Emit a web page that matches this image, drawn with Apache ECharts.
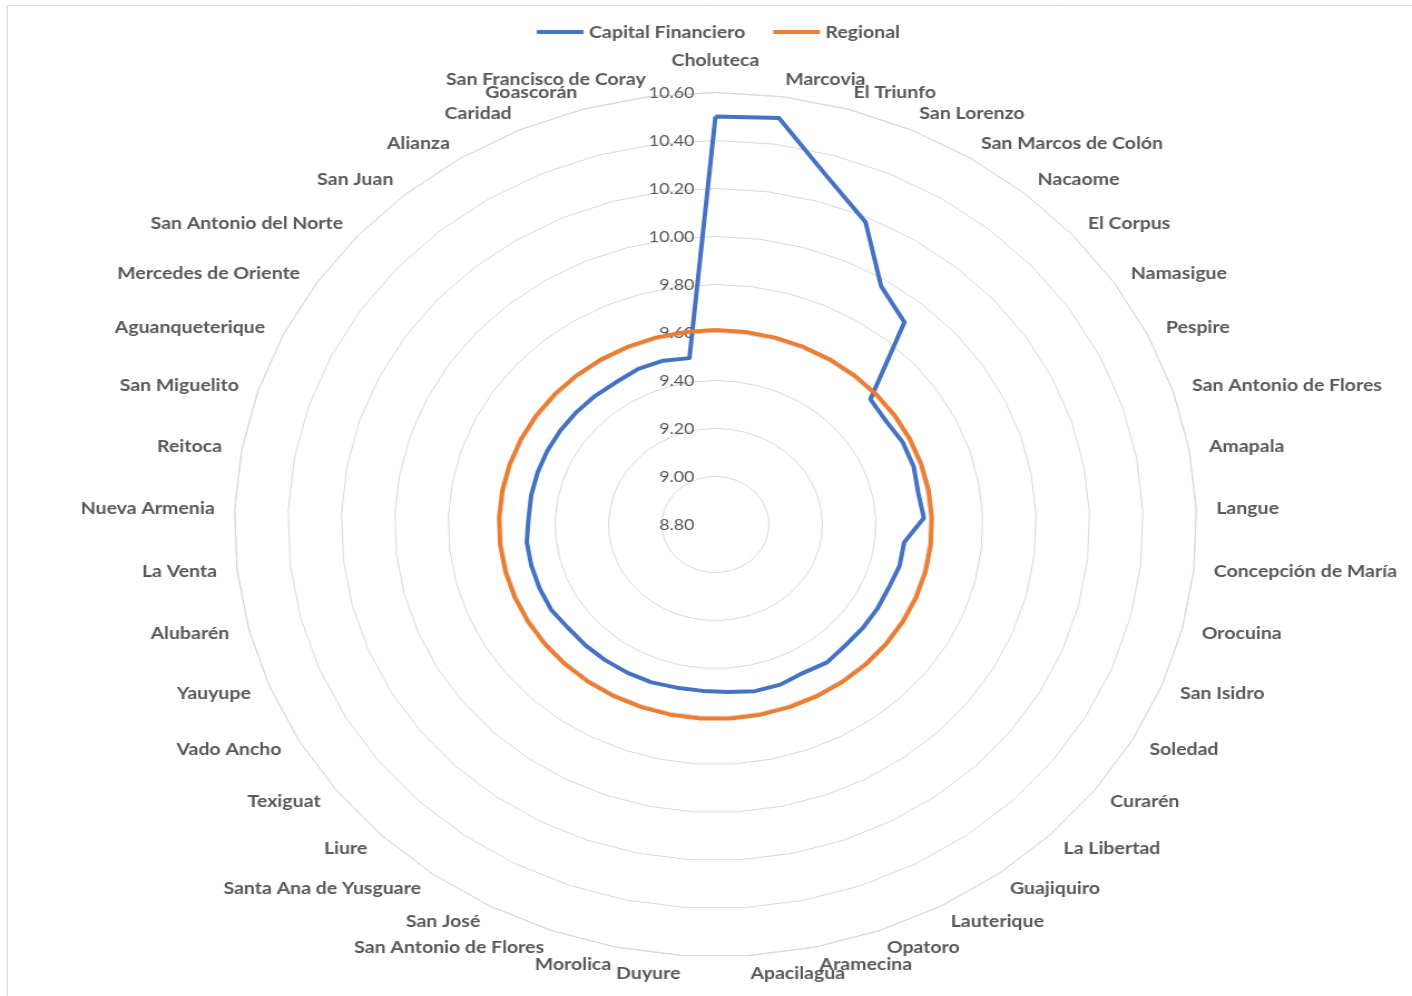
<!DOCTYPE html>
<html>
<head>
<meta charset="utf-8">
<script src="https://cdn.jsdelivr.net/npm/echarts@6/dist/echarts.min.js"></script>
<style>
  html, body { margin: 0; padding: 0; background: #ffffff; }
  #wrap { position: absolute; left: 0; top: 0; width: 1412px; height: 996px; overflow: hidden; background: #ffffff; }
  #chart { position: absolute; left: 0; top: 0; width: 1268px; height: 996px; transform: scaleX(1.11356); transform-origin: 0 0; }
</style>
</head>
<body>
<div id="wrap"><div id="chart"></div></div>
<script>
// ---- data (clockwise from top) ----
const categories = [
  'Choluteca', 'Marcovia', 'El Triunfo', 'San Lorenzo', 'San Marcos de Colón', 'Nacaome',
  'El Corpus', 'Namasigue', 'Pespire', 'San Antonio de Flores', 'Amapala', 'Langue',
  'Concepción de María', 'Orocuina', 'San Isidro', 'Soledad', 'Curarén', 'La Libertad',
  'Guajiquiro', 'Lauterique', 'Opatoro', 'Aramecina', 'Apacilagua', 'Duyure', 'Morolica',
  'San Antonio de Flores', 'San José', 'Santa Ana de Yusguare', 'Liure', 'Texiguat',
  'Vado Ancho', 'Yauyupe', 'Alubarén', 'La Venta', 'Nueva Armenia', 'Reitoca',
  'San Miguelito', 'Aguanqueterique', 'Mercedes de Oriente', 'San Antonio del Norte',
  'San Juan', 'Alianza', 'Caridad', 'Goascorán', 'San Francisco de Coray'
];
const capitalFinanciero = [
  10.50, 10.51, 10.31, 10.18, 9.97, 9.90, 9.58, 9.57, 9.58, 9.58, 9.57, 9.58,
  9.51, 9.51, 9.50, 9.50, 9.50, 9.50, 9.51, 9.50, 9.51, 9.51, 9.50, 9.495, 9.495,
  9.50, 9.50, 9.50, 9.50, 9.50, 9.51, 9.51, 9.51, 9.51, 9.50, 9.50, 9.50, 9.50,
  9.50, 9.50, 9.50, 9.50, 9.51, 9.51, 9.50
];
const regional = [
  9.61, 9.61, 9.61, 9.61, 9.61, 9.61, 9.61, 9.61, 9.61, 9.61, 9.61, 9.61,
  9.61, 9.61, 9.61, 9.61, 9.61, 9.61, 9.61, 9.61, 9.61, 9.61, 9.61, 9.61, 9.61,
  9.61, 9.61, 9.61, 9.61, 9.61, 9.61, 9.61, 9.61, 9.61, 9.61, 9.61, 9.61, 9.61,
  9.61, 9.61, 9.61, 9.61, 9.61, 9.61, 9.61
];
const seriesNames = ['Capital Financiero', 'Regional'];
const axisMin = 8.8;
const axisMax = 10.6;
const axisStep = 0.2;

// ---- layout / style ----
const CX = 642.5, CY = 524.5, R = 432;
const gray = '#595959';
const font = 'Lato';
const labelSize = 17.5;

// ECharts radar runs counter-clockwise; reorder so categories read clockwise
const order = [0];
for (let i = categories.length - 1; i >= 1; i--) order.push(i);
const pick = arr => order.map(i => arr[i]);

const chart = echarts.init(document.getElementById('chart'), null, { renderer: 'canvas' });
chart.setOption({
  backgroundColor: '#ffffff',
  animation: false,
  textStyle: { fontFamily: font },
  graphic: [{
    type: 'rect', silent: true, z: -10,
    shape: { x: 6.5, y: 5.5, width: 1400, height: 1100 },
    style: { fill: 'none', stroke: '#d9d9d9', lineWidth: 1 }
  }],
  legend: {
    top: 23, left: 482, padding: 0,
    itemWidth: 42, itemHeight: 4, itemGap: 25,
    icon: 'roundRect',
    data: seriesNames,
    textStyle: { color: gray, fontSize: labelSize, fontWeight: 'bold', fontFamily: font }
  },
  radar: {
    center: [CX, CY],
    radius: R,
    startAngle: 90,
    splitNumber: Math.round((axisMax - axisMin) / axisStep),
    shape: 'polygon',
    nameGap: 18,
    indicator: pick(categories).map((n, i) => i === 0
      ? { name: n, min: axisMin, max: axisMax, nameGap: 23 }
      : { name: n, min: axisMin, max: axisMax }),
    axisName: { color: gray, fontSize: labelSize, fontWeight: 'bold', fontFamily: font },
    splitLine: { lineStyle: { color: '#d9d9d9', width: 1 } },
    splitArea: { show: false },
    axisLine: { show: false },
    axisTick: { show: false },
    axisLabel: { show: false }
  },
  grid: { left: CX, top: CY - R, width: 1, height: R, containLabel: false },
  xAxis: { type: 'value', show: false, min: 0, max: 1 },
  yAxis: {
    type: 'value', min: axisMin, max: axisMax, interval: axisStep,
    axisLine: { show: false }, axisTick: { show: false }, splitLine: { show: false },
    axisLabel: {
      margin: 19, color: gray, fontSize: 16, fontFamily: font,
      formatter: v => v.toFixed(2)
    }
  },
  series: [{
    type: 'radar',
    symbol: 'none',
    data: [
      { name: seriesNames[0], value: pick(capitalFinanciero),
        lineStyle: { color: '#4472C4', width: 4 }, itemStyle: { color: '#4472C4' } },
      { name: seriesNames[1], value: pick(regional),
        lineStyle: { color: '#ED7D31', width: 4 }, itemStyle: { color: '#ED7D31' } }
    ]
  }]
});
</script>
</body>
</html>
